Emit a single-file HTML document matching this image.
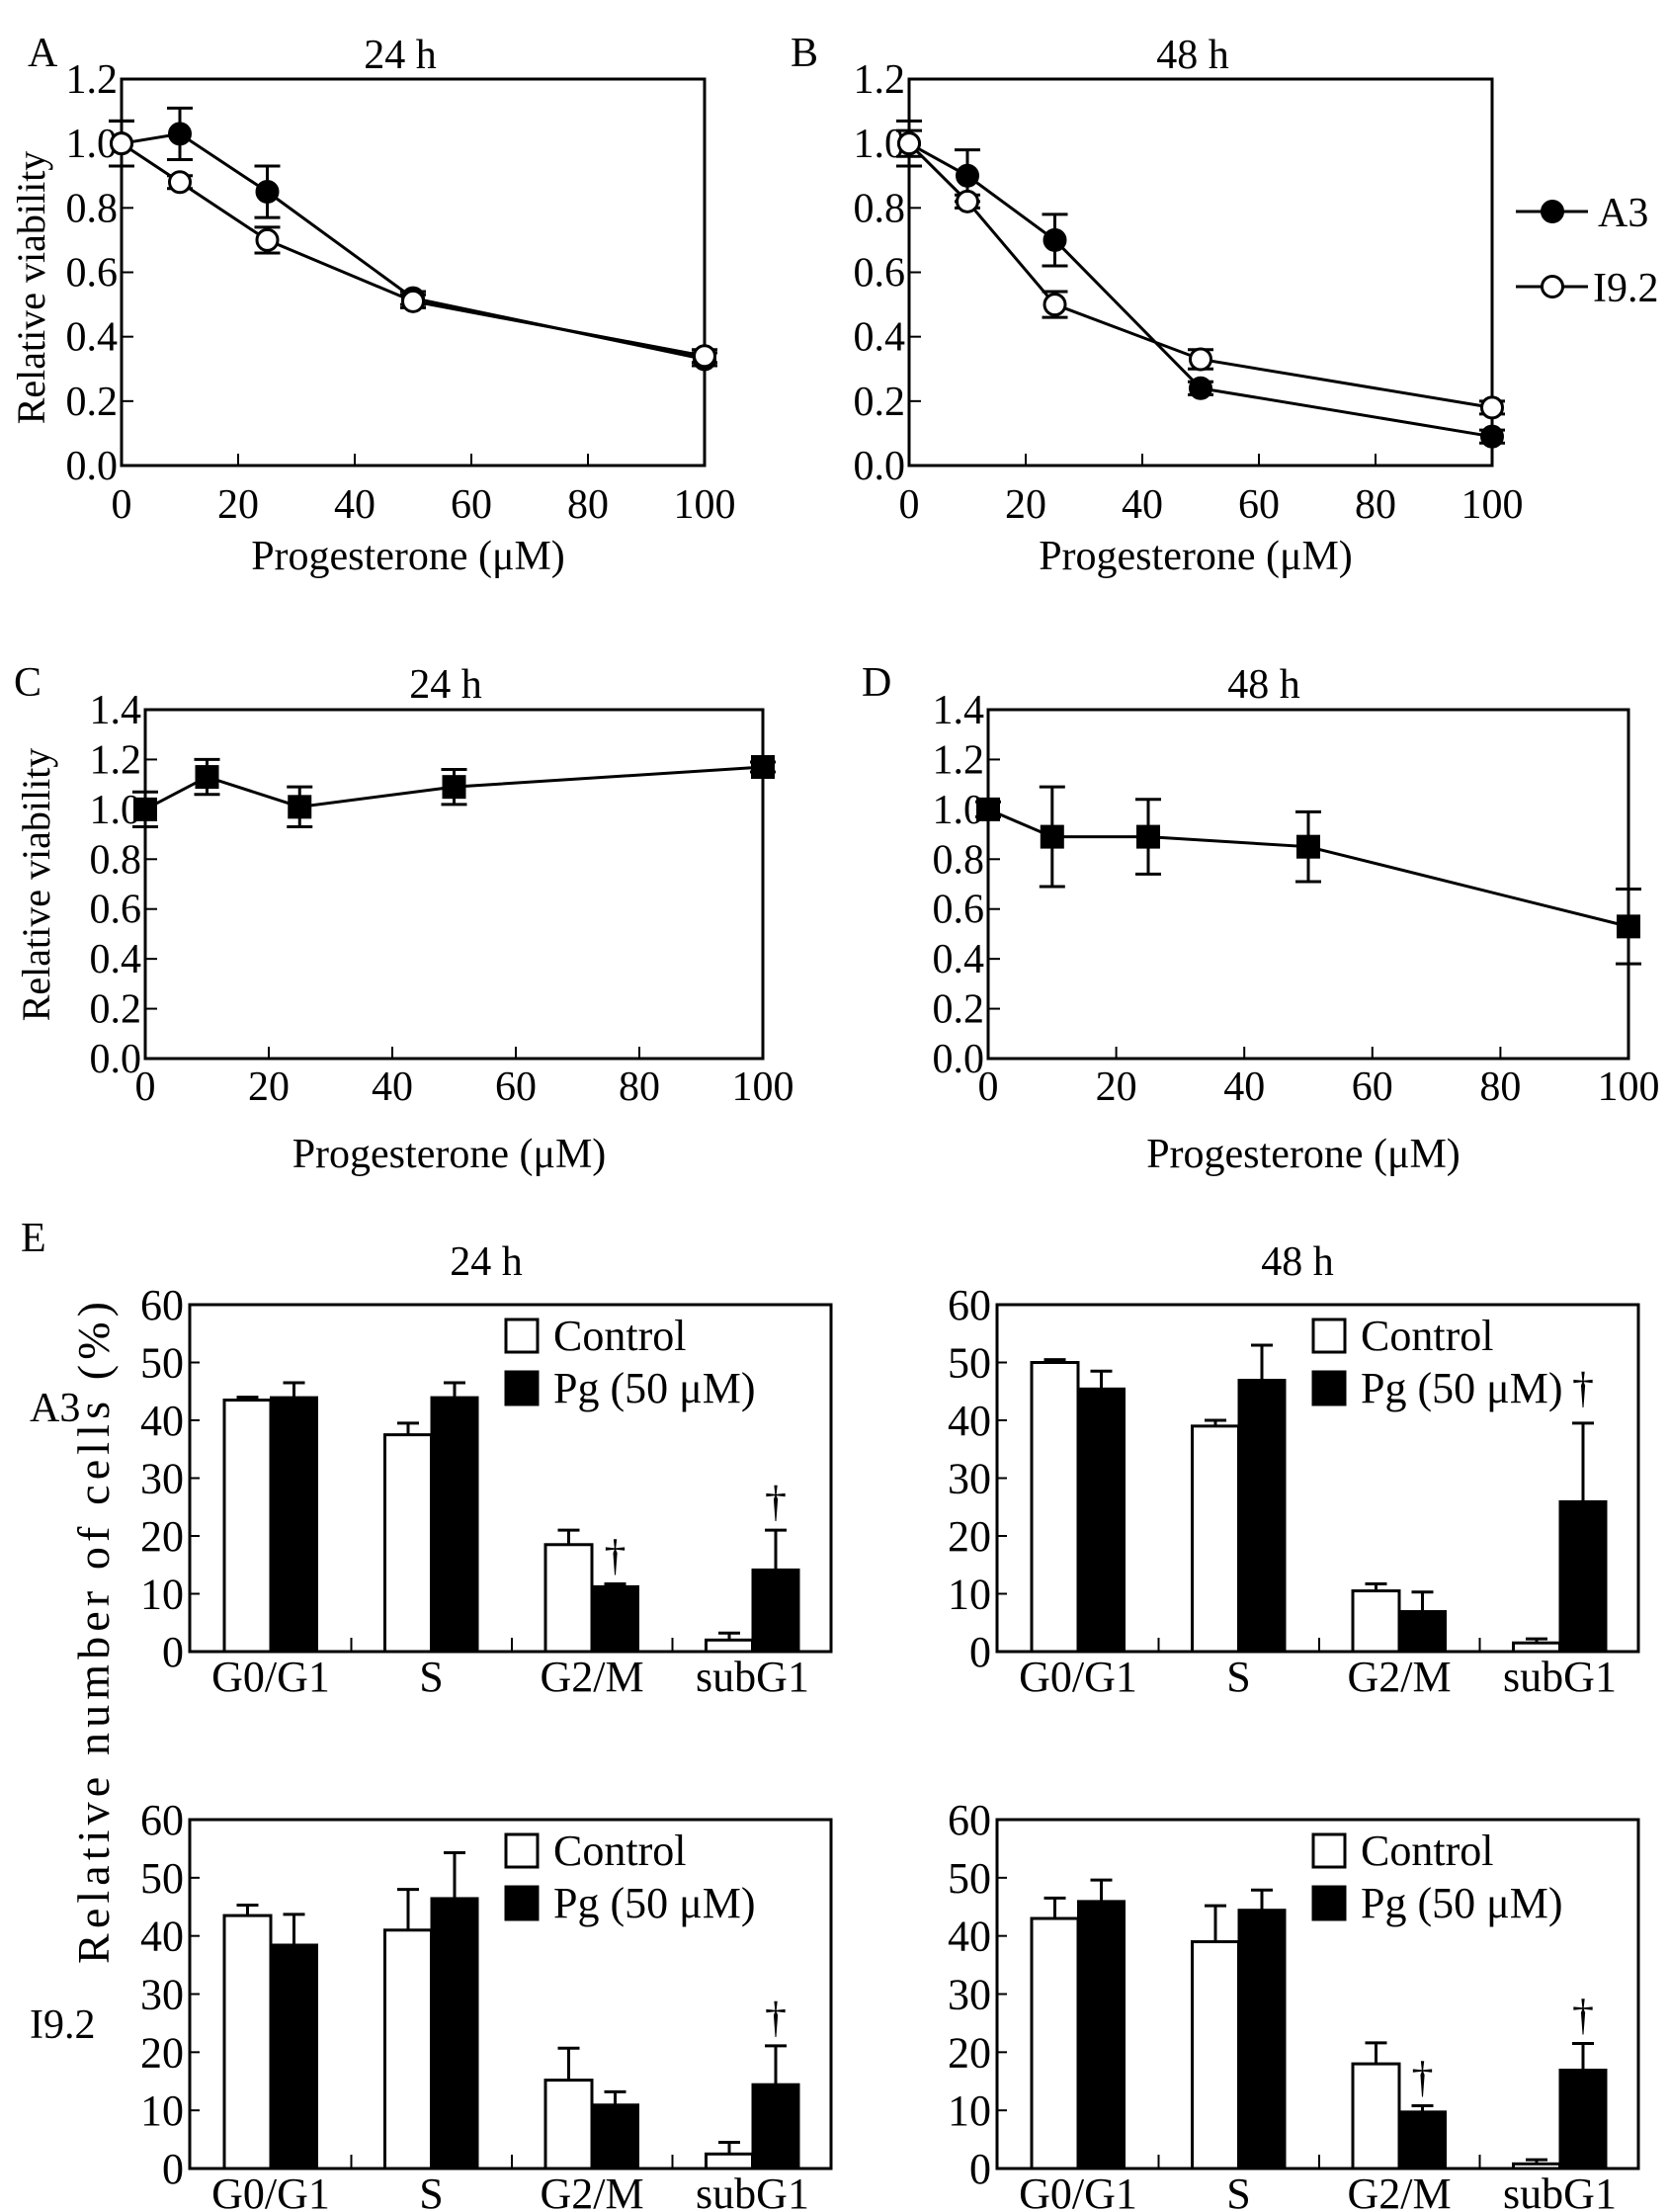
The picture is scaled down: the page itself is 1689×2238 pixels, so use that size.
<!DOCTYPE html>
<html><head><meta charset="utf-8"><style>
html,body{margin:0;padding:0;background:#fff}
svg{display:block;font-family:"Liberation Serif",serif}
</style></head><body>
<svg id="fig" width="1689" height="2238" viewBox="0 0 1689 2238" xmlns="http://www.w3.org/2000/svg"></svg>
<script>
// ---------- Data: line panels ----------
const doses = [0, 10, 25, 50, 100];
const aA3 = [1.0, 1.03, 0.85, 0.52, 0.33];
const aA3Err = [0.07, 0.08, 0.08, 0.02, 0.02];
const aI92 = [1.0, 0.88, 0.70, 0.51, 0.34];
const aI92Err = [0.07, 0.02, 0.04, 0.02, 0.02];
const bA3 = [1.0, 0.90, 0.70, 0.24, 0.09];
const bA3Err = [0.04, 0.08, 0.08, 0.02, 0.02];
const bI92 = [1.0, 0.82, 0.50, 0.33, 0.18];
const bI92Err = [0.07, 0.02, 0.04, 0.03, 0.02];
const cVals = [1.0, 1.13, 1.01, 1.09, 1.17];
const cErr = [0.07, 0.07, 0.08, 0.07, 0.02];
const dVals = [1.0, 0.89, 0.89, 0.85, 0.53];
const dErr = [0.03, 0.20, 0.15, 0.14, 0.15];
const xTicks = [0, 20, 40, 60, 80, 100];
const yTicksAB = ["0.0","0.2","0.4","0.6","0.8","1.0","1.2"];
const yTicksCD = ["0.0","0.2","0.4","0.6","0.8","1.0","1.2","1.4"];
// ---------- Data: bar panels ----------
const phases = ["G0/G1", "S", "G2/M", "subG1"];
const barYTicks = [0, 10, 20, 30, 40, 50, 60];
const e1Ctrl = [43.5, 37.5, 18.5, 2];
const e1CtrlErr = [0.5, 2, 2.5, 1.2];
const e1Pg = [44, 44, 11.3, 14.2];
const e1PgErr = [2.5, 2.5, 0.4, 6.8];
const e1Dag = [0, 0, 1, 1];
const e2Ctrl = [50, 39, 10.5, 1.5];
const e2CtrlErr = [0.5, 1, 1.2, 0.7];
const e2Pg = [45.5, 47, 7, 26];
const e2PgErr = [3, 6, 3.3, 13.5];
const e2Dag = [0, 0, 0, 0];
const e3Ctrl = [43.5, 41, 15.2, 2.5];
const e3CtrlErr = [1.8, 7, 5.5, 2];
const e3Pg = [38.5, 46.5, 11, 14.5];
const e3PgErr = [5.2, 7.8, 2.2, 6.6];
const e3Dag = [0, 0, 0, 1];
const e4Ctrl = [43, 39, 18, 0.8];
const e4CtrlErr = [3.5, 6.2, 3.6, 0.7];
const e4Pg = [46, 44.5, 9.8, 17];
const e4PgErr = [3.6, 3.4, 1, 4.5];
const e4Dag = [0, 0, 1, 1];

const NS = "http://www.w3.org/2000/svg";
const svg = document.getElementById("fig");
function el(tag, attrs, parent) {
  const e = document.createElementNS(NS, tag);
  for (const k in attrs) e.setAttribute(k, attrs[k]);
  (parent || svg).appendChild(e);
  return e;
}
function txt(x, y, s, size, anchor, parent) {
  const t = el("text", {x: x, y: y, "font-size": size, "text-anchor": anchor || "middle", fill: "#000"}, parent);
  t.textContent = s;
  return t;
}

function linePanel(name, L, R, T, B, ymax, yTickLabels, series, title, letter, letterX, titleX, titleY, xtY, xTitleY) {
  const g = el("g", {});
  
  
  const sx = v => L + (R - L) * v / 100;
  const sy = v => B - (B - T) * v / ymax;
  const frame = el("rect", {x: L, y: T, width: R - L, height: B - T, fill: "none", stroke: "#000", "stroke-width": 3}, g);
  
  
  xTicks.forEach(v => {
    el("line", {x1: sx(v), x2: sx(v), y1: B, y2: B - 12, stroke: "#000", "stroke-width": 2}, g);
    const t = txt(sx(v), xtY, String(v), 42, "middle", g);
    
    
  });
  yTickLabels.forEach(s => {
    const v = parseFloat(s);
    el("line", {x1: L, x2: L + 12, y1: sy(v), y2: sy(v), stroke: "#000", "stroke-width": 2}, g);
    const t = txt(L - 4, sy(v) + 14, s, 42, "end", g);
    
    
  });
  const tt = txt(titleX, titleY, title, 42, "middle", g);
  
  
  const lt = txt(letterX, titleY - 2, letter, 42, "start", g);
  
  
  const xt = txt((L + R) / 2 - 5, xTitleY, "Progesterone (μM)", 42, "middle", g);
  
  
  series.forEach(s => {
    const sg = el("g", {}, g);
    
    
    const pts = doses.map((d, i) => sx(d) + "," + sy(s.vals[i])).join(" ");
    el("polyline", {points: pts, fill: "none", stroke: "#000", "stroke-width": 3}, sg);
    doses.forEach((d, i) => {
      const x = sx(d), y1 = sy(s.vals[i] + s.err[i]), y2 = sy(s.vals[i] - s.err[i]);
      el("line", {x1: x, x2: x, y1: y1, y2: y2, stroke: "#000", "stroke-width": 3}, sg);
      el("line", {x1: x - 13, x2: x + 13, y1: y1, y2: y1, stroke: "#000", "stroke-width": 3}, sg);
      el("line", {x1: x - 13, x2: x + 13, y1: y2, y2: y2, stroke: "#000", "stroke-width": 3}, sg);
    });
    doses.forEach((d, i) => {
      let m;
      if (s.marker === "square") {
        m = el("rect", {x: sx(d) - 12, y: sy(s.vals[i]) - 12, width: 24, height: 24, fill: "#000"}, sg);
      } else {
        m = el("circle", {cx: sx(d), cy: sy(s.vals[i]), r: 10.5, fill: s.marker === "open" ? "#fff" : "#000", stroke: "#000", "stroke-width": 3}, sg);
      }
      
      
    });
  });
}

linePanel("panel-a", 123, 713, 80, 471, 1.2, yTicksAB,
  [{name: "series-a3", vals: aA3, err: aA3Err, marker: "filled"},
   {name: "series-i92", vals: aI92, err: aI92Err, marker: "open"}],
  "24 h", "A", 28, 405, 69, 524, 576);
linePanel("panel-b", 920, 1510, 80, 471, 1.2, yTicksAB,
  [{name: "series-a3", vals: bA3, err: bA3Err, marker: "filled"},
   {name: "series-i92", vals: bI92, err: bI92Err, marker: "open"}],
  "48 h", "B", 800, 1207, 69, 524, 576);
linePanel("panel-c", 147, 772, 718, 1071, 1.4, yTicksCD,
  [{name: "series-viability", vals: cVals, err: cErr, marker: "square"}],
  "24 h", "C", 14, 451, 706, 1113, 1181);
linePanel("panel-d", 1000, 1648, 718, 1071, 1.4, yTicksCD,
  [{name: "series-viability", vals: dVals, err: dErr, marker: "square"}],
  "48 h", "D", 872, 1279, 706, 1113, 1181);

// y titles for A/C
let yt = txt(0, 0, "Relative viability", 40, "middle");
yt.setAttribute("transform", "translate(45,291) rotate(-90)");


yt = txt(0, 0, "Relative viability", 40, "middle");
yt.setAttribute("transform", "translate(50,895) rotate(-90)");



// legend for B
const lgB = el("g", {});


el("line", {x1: 1534, x2: 1607, y1: 214, y2: 214, stroke: "#000", "stroke-width": 3}, lgB);
el("circle", {cx: 1571, cy: 214, r: 10.5, fill: "#000", stroke: "#000", "stroke-width": 3}, lgB);
txt(1617, 229, "A3", 42, "start", lgB);
el("line", {x1: 1534, x2: 1607, y1: 290, y2: 290, stroke: "#000", "stroke-width": 3}, lgB);
el("circle", {cx: 1571, cy: 290, r: 10.5, fill: "#fff", stroke: "#000", "stroke-width": 3}, lgB);
txt(1612, 305, "I9.2", 42, "start", lgB);

// ---------- Bar panels ----------
function barPanel(name, L, T, B, ctrl, ctrlErr, pg, pgErr, dag, legendDagger) {
  const W = 649;
  const g = el("g", {});
  
  
  const sy = v => B - (B - T) * v / 60;
  const frame = el("rect", {x: L, y: T, width: W, height: B - T, fill: "none", stroke: "#000", "stroke-width": 3}, g);
  
  
  barYTicks.forEach(v => {
    el("line", {x1: L, x2: L + 10, y1: sy(v), y2: sy(v), stroke: "#000", "stroke-width": 2}, g);
    const t = txt(L - 6, sy(v) + 15, String(v), 44, "end", g);
    
    
  });
  [1, 2, 3].forEach(k => {
    const x = L + 35 + k * 162.5 - 34;
    el("line", {x1: x, x2: x, y1: B, y2: B - 14, stroke: "#000", "stroke-width": 2}, g);
  });
  phases.forEach((p, i) => {
    const x0 = L + 35 + i * 162.5;
    const bw = 47;
    const cy = sy(ctrl[i]), py = sy(pg[i]);
    const ce = sy(ctrl[i] + ctrlErr[i]), pe = sy(pg[i] + pgErr[i]);
    el("line", {x1: x0 + bw / 2, x2: x0 + bw / 2, y1: cy, y2: ce, stroke: "#000", "stroke-width": 3}, g);
    el("line", {x1: x0 + bw / 2 - 11, x2: x0 + bw / 2 + 11, y1: ce, y2: ce, stroke: "#000", "stroke-width": 3}, g);
    el("line", {x1: x0 + bw * 1.5, x2: x0 + bw * 1.5, y1: py, y2: pe, stroke: "#000", "stroke-width": 3}, g);
    el("line", {x1: x0 + bw * 1.5 - 11, x2: x0 + bw * 1.5 + 11, y1: pe, y2: pe, stroke: "#000", "stroke-width": 3}, g);
    const rc = el("rect", {x: x0, y: cy, width: bw, height: B - cy, fill: "#fff", stroke: "#000", "stroke-width": 3}, g);
    
    
    const rp = el("rect", {x: x0 + bw, y: py, width: bw, height: B - py, fill: "#000", stroke: "#000", "stroke-width": 2}, g);
    
    
    if (dag[i]) {
      const d = txt(x0 + bw * 1.5, pe - 14, "†", 44, "middle", g);
      
      
    }
    const cl = txt(x0 + bw, B + 40, p, 44, "middle", g);
    
    
  });
  const lg = el("g", {}, g);
  
  
  const lx = L + 320;
  el("rect", {x: lx, y: T + 15, width: 32, height: 33, fill: "#fff", stroke: "#000", "stroke-width": 3}, lg);
  txt(lx + 48, T + 46, "Control", 44, "start", lg);
  el("rect", {x: lx, y: T + 68, width: 32, height: 33, fill: "#000", stroke: "#000", "stroke-width": 3}, lg);
  txt(lx + 48, T + 99, "Pg (50 μM)", 44, "start", lg);
  if (legendDagger) txt(lx + 273, T + 99, "†", 44, "middle", lg);
}
barPanel("panel-e-a3-24h", 192, 1320, 1671, e1Ctrl, e1CtrlErr, e1Pg, e1PgErr, e1Dag, false);
barPanel("panel-e-a3-48h", 1009, 1320, 1671, e2Ctrl, e2CtrlErr, e2Pg, e2PgErr, e2Dag, true);
barPanel("panel-e-i92-24h", 192, 1841, 2194, e3Ctrl, e3CtrlErr, e3Pg, e3PgErr, e3Dag, false);
barPanel("panel-e-i92-48h", 1009, 1841, 2194, e4Ctrl, e4CtrlErr, e4Pg, e4PgErr, e4Dag, false);

let t;
t = txt(21, 1266, "E", 42, "start");  
t = txt(492, 1290, "24 h", 42, "middle");  
t = txt(1313, 1290, "48 h", 42, "middle");  
t = txt(30, 1438, "A3", 42, "start");  
t = txt(30, 2062, "I9.2", 42, "start");  
t = txt(0, 0, "Relative number of cells (%)", 46, "middle");
t.setAttribute("transform", "translate(110,1652) rotate(-90)");
t.setAttribute("textLength", "670");


</script>
</body></html>
